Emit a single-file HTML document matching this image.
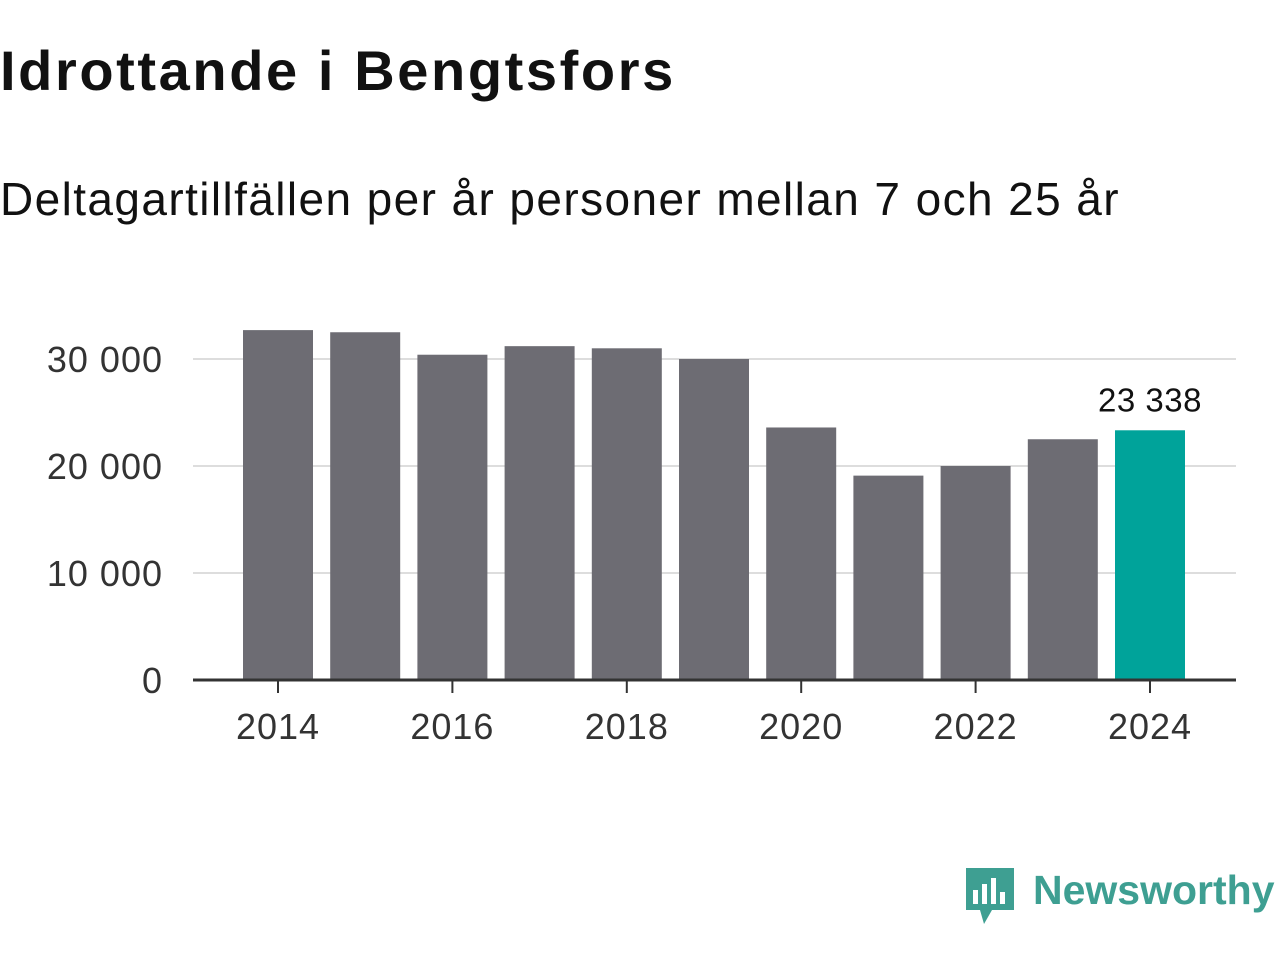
<!DOCTYPE html>
<html><head><meta charset="utf-8"><style>
body{margin:0;width:1280px;height:960px;background:#fff;font-family:"Liberation Sans",sans-serif;overflow:hidden;position:relative}
#title{position:absolute;left:0;top:38px;font-size:56px;font-weight:bold;color:#111;letter-spacing:2.6px}
#sub{position:absolute;left:0;top:172px;font-size:46px;color:#111;letter-spacing:1.4px}
</style></head><body>
<div id="title">Idrottande i Bengtsfors</div>
<div id="sub">Deltagartillfällen per år personer mellan 7 och 25 år</div>
<svg id="chart" width="1280" height="960" style="position:absolute;left:0;top:0"></svg>
<script>
const years=[2014,2015,2016,2017,2018,2019,2020,2021,2022,2023,2024];
const values=[32700,32500,30400,31200,31000,30000,23600,19100,20000,22500,23338];
const yTicks=[0,10000,20000,30000];
const yTickLabels=["0","10 000","20 000","30 000"];
const xTickYears=[2014,2016,2018,2020,2022,2024];
const highlightLabel="23 338";
const NS="http://www.w3.org/2000/svg";
const svg=document.getElementById('chart');
const y=v=>680-v*0.0107;
const x=yr=>278+(yr-2014)*87.2;
function mk(t,a,p){const e=document.createElementNS(NS,t);for(const k in a)e.setAttribute(k,a[k]);(p||svg).appendChild(e);return e;}
yTicks.forEach((t,i)=>{
 if(t>0){const g=mk('line',{x1:193,x2:1236,y1:y(t),y2:y(t),stroke:'#ddd','stroke-width':2});
 
 }
 const l=mk('text',{x:163,y:y(t)+13,'text-anchor':'end','font-size':36,fill:'#333','letter-spacing':1,'font-family':'Liberation Sans, sans-serif'});
 l.textContent=yTickLabels[i];
 
 
});
years.forEach((yr,i)=>{
 const last=i===years.length-1;
 const b=mk('rect',{x:x(yr)-35,y:y(values[i]),width:70,height:680-y(values[i]),fill:last?'#00a39a':'#6d6c73'});
 
 
 if(last){const t=mk('text',{x:x(yr),y:y(values[i])-19,'text-anchor':'middle','font-size':33,fill:'#111','letter-spacing':0.5,'font-family':'Liberation Sans, sans-serif'});
 t.textContent=highlightLabel;
 
 }
});
const ax=mk('line',{x1:193,x2:1236,y1:680,y2:680,stroke:'#333','stroke-width':3});


xTickYears.forEach(yr=>{
 const tk=mk('line',{x1:x(yr),x2:x(yr),y1:680,y2:693,stroke:'#333','stroke-width':2});
 
 
 const l=mk('text',{x:x(yr),y:739,'text-anchor':'middle','font-size':36,fill:'#333','letter-spacing':1,'font-family':'Liberation Sans, sans-serif'});
 l.textContent=yr;
 
 
});
const logo=mk('g',{});


mk('path',{d:'M966 868h48v42h-22l-8 14-4-14h-14z',fill:'#3e9f92'},logo);
[[973,890,5,14],[982,884,5,20],[991,878,5,26],[1000,892,5,12]].forEach(r=>mk('rect',{x:r[0],y:r[1],width:r[2],height:r[3],fill:'#fff'},logo));
const lt=mk('text',{x:1033,y:904,'font-size':41,'font-weight':'bold',fill:'#3e9f92','font-family':'Liberation Sans, sans-serif'},logo);
lt.textContent='Newsworthy';
</script>
</body></html>
